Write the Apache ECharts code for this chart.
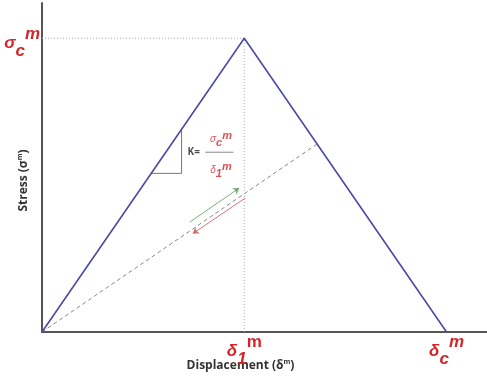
<!DOCTYPE html>
<html><head><meta charset="utf-8">
<script src="https://cdn.jsdelivr.net/npm/echarts@6/dist/echarts.min.js"></script>
<style>html,body{margin:0;padding:0;background:#fff}#c{width:487px;height:381px}</style>
</head><body><div id="c"></div>
<script>
// Bilinear traction-separation law (normalised: delta1 = 1, sigmac = 1)
const envelope = [[0, 0], [1, 1], [2, 0]];
const peakGuides = [[0, 1], [1, 1], [1, 0]];
const unloadPath = [[0, 0], [1.36, 0.64]];
const slopeTriangle = [[0.54, 0.54], [0.69, 0.54], [0.69, 0.69]];
const fractionBar = [[0.807, 0.612], [0.946, 0.612]];
const loadArrow = [[0.73, 0.374], [0.975, 0.49]];
const unloadArrow = [[1.005, 0.456], [0.745, 0.335]];
const xTickValues = [1, 2];
const xTickLabels = ['{g|δ}{sub|1}{supu|m}', '{g|δ}{sub|c}{sup|m}'];
const yTickValues = [1];
const yTickLabels = ['{g|σ}{sub|c}{sup|m}'];
const xAxisTitle = 'Displacement (δ{s|m})';
const yAxisTitle = 'Stress (σ{s|m})';
const kText = [[0.75, 0.612, 'K=']];
const fracTop = [[0.885, 0.655, '{g|σ}{sub|c}{sup|m}']];
const fracBottom = [[0.885, 0.55, '{g|δ}{sub|1}{sup|m}']];

const red = '#d2262b';
const bigRich = {
  g: {fontSize: 17, fontStyle: 'italic', fontWeight: 'bold', color: red, fontFamily: 'Liberation Sans', lineHeight: 34, verticalAlign: 'middle'},
  sub: {fontSize: 17, fontStyle: 'italic', fontWeight: 'bold', color: red, fontFamily: 'Liberation Sans', lineHeight: 34, verticalAlign: 'bottom'},
  sup: {fontSize: 17, fontStyle: 'italic', fontWeight: 'bold', color: red, fontFamily: 'Liberation Sans', lineHeight: 34, verticalAlign: 'top'},
  supu: {fontSize: 17, fontWeight: 'bold', color: red, fontFamily: 'Liberation Sans', lineHeight: 34, verticalAlign: 'top'}
};
const smallRich = {
  g: {fontSize: 10, fontStyle: 'italic', color: red, fontFamily: 'Liberation Sans', lineHeight: 18, verticalAlign: 'middle'},
  sub: {fontSize: 11, fontStyle: 'italic', fontWeight: 'bold', color: red, fontFamily: 'Liberation Sans', lineHeight: 18, verticalAlign: 'bottom'},
  sup: {fontSize: 11, fontStyle: 'italic', fontWeight: 'bold', color: red, fontFamily: 'Liberation Sans', lineHeight: 18, verticalAlign: 'top'}
};
const titleStyle = {fontSize: 12, fontWeight: 'bold', color: '#333', fontFamily: 'Open Sans',
  rich: {s: {fontSize: 7, fontWeight: 'bold', color: '#333', verticalAlign: 'top', lineHeight: 16}}};

const chart = echarts.init(document.getElementById('c'));
chart.setOption({
  animation: false,
  grid: {left: 42, right: 0, top: 3, bottom: 49, containLabel: false, outerBoundsMode: 'none'},
  xAxis: {
    type: 'value', min: 0, max: 2.2,
    axisLine: {show: true, lineStyle: {color: '#555', width: 2}},
    axisTick: {show: false},
    splitLine: {show: false},
    axisLabel: {customValues: xTickValues, margin: 2,
      formatter: v => xTickLabels[xTickValues.indexOf(v)] || '', rich: bigRich},
    name: xAxisTitle, nameLocation: 'middle', nameGap: 26, nameMoveOverlap: false,
    nameTextStyle: Object.assign({padding: [0, 48, 0, 0]}, titleStyle)
  },
  yAxis: {
    type: 'value', min: 0, max: 1.12,
    axisLine: {show: true, lineStyle: {color: '#555', width: 2}},
    axisTick: {show: false},
    splitLine: {show: false},
    axisLabel: {customValues: yTickValues, margin: 2, padding: [10, 0, 0, 0],
      formatter: v => yTickLabels[yTickValues.indexOf(v)] || '', rich: bigRich},
    name: yAxisTitle, nameLocation: 'middle', nameGap: 10, nameMoveOverlap: false,
    nameTextStyle: Object.assign({padding: [0, 26, 0, 0]}, titleStyle)
  },
  series: [
    {type: 'line', data: peakGuides, symbol: 'none', z: 1,
      lineStyle: {color: '#aaa', width: 1, type: [1, 2]}},
    {type: 'line', data: unloadPath, symbol: 'none', z: 2,
      lineStyle: {color: '#888', width: 1, type: [4, 3]}},
    {type: 'line', data: slopeTriangle, symbol: 'none', z: 2,
      lineStyle: {color: '#777', width: 1}},
    {type: 'line', data: fractionBar, symbol: 'none', z: 2,
      lineStyle: {color: '#888', width: 1}},
    {type: 'line', data: envelope, symbol: 'none', z: 3,
      lineStyle: {color: '#4a4aa6', width: 1.6}},
    {type: 'lines', coordinateSystem: 'cartesian2d', symbol: ['none', 'arrow'], symbolSize: 6, z: 4,
      data: [{coords: loadArrow, lineStyle: {color: '#5c9a5c'}}],
      lineStyle: {width: 1, opacity: 0.8}},
    {type: 'lines', coordinateSystem: 'cartesian2d', symbol: ['none', 'arrow'], symbolSize: 6, z: 4,
      data: [{coords: unloadArrow, lineStyle: {color: '#d05050'}}],
      lineStyle: {width: 1, opacity: 0.8}},
    {type: 'scatter', symbolSize: 0, data: kText, z: 5,
      label: {show: true, position: 'inside', formatter: p => p.data[2],
        fontSize: 10, fontWeight: 'bold', color: '#222', fontFamily: 'Open Sans'}},
    {type: 'scatter', symbolSize: 0, data: fracTop.concat(fracBottom), z: 5,
      label: {show: true, position: 'inside', formatter: p => p.data[2], rich: smallRich}}
  ]
});
</script></body></html>
